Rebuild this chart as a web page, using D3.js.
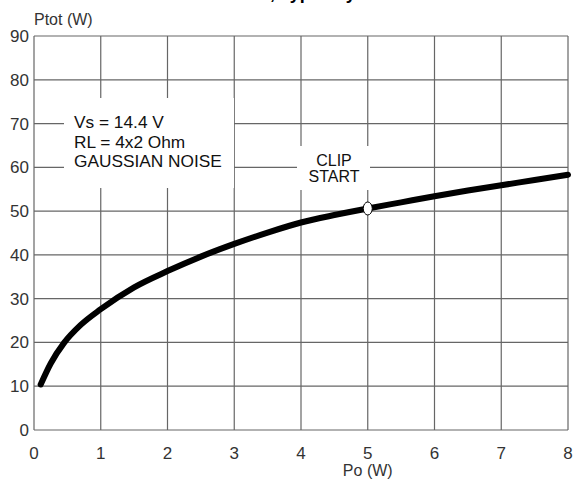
<!DOCTYPE html>
<html>
<head>
<meta charset="utf-8">
<script src="https://cdn.jsdelivr.net/npm/d3@7"></script>
<style>
  body { margin: 0; background: #fff; }
  svg { display: block; font-family: "Liberation Sans", Arial, sans-serif; }
</style>
</head>
<body>
<div id="chart"></div>
<script>
// Po (W) vs Ptot (W)
const po   = [0.1, 0.25, 0.45, 0.7, 1, 1.5, 2, 2.5, 3, 3.5, 4, 4.5, 5, 5.5, 6, 6.5, 7, 7.5, 8];
const ptot = [10.4, 15.2, 19.9, 24, 27.6, 32.6, 36.3, 39.6, 42.5, 45.1, 47.4, 49.1, 50.6, 52, 53.4, 54.7, 55.9, 57.1, 58.3];
const xTicks = [0, 1, 2, 3, 4, 5, 6, 7, 8];
const yTicks = [0, 10, 20, 30, 40, 50, 60, 70, 80, 90];
const clipPoint = [5, 50.6];
const noteLines = ['Vs = 14.4 V', 'RL = 4x2 Ohm', 'GAUSSIAN NOISE'];
const clipLines = ['CLIP', 'START'];

const width = 574, height = 482;
const margin = { top: 36, right: 6, bottom: 52, left: 34 };

const svg = d3.select('#chart').append('svg')
  .attr('width', width)
  .attr('height', height);

const x = d3.scaleLinear().domain([0, 8]).range([margin.left, width - margin.right]);
const y = d3.scaleLinear().domain([0, 90]).range([height - margin.bottom, margin.top]);

// title, cut off at the top edge like in the source
svg.append('text')
  .attr('x', 182).attr('y', -1)
  .attr('font-size', 18).attr('font-weight', 'bold')
  .text('Ptot vs Po, Typically');

// grid
svg.append('g')
  .selectAll('line')
  .data(xTicks)
  .join('line')
  .attr('x1', d => x(d)).attr('x2', d => x(d))
  .attr('y1', y(0)).attr('y2', y(90))
  .attr('stroke', '#666').attr('stroke-width', 1.2);

svg.append('g')
  .selectAll('line')
  .data(yTicks)
  .join('line')
  .attr('x1', x(0)).attr('x2', x(8))
  .attr('y1', d => y(d)).attr('y2', d => y(d))
  .attr('stroke', '#666').attr('stroke-width', 1.2);

// tick labels
svg.append('g')
  .selectAll('text')
  .data(yTicks)
  .join('text')
  .attr('x', x(0) - 5)
  .attr('y', d => y(d) + 6)
  .attr('text-anchor', 'end')
  .attr('font-size', 17)
  .attr('fill', '#333')
  .text(d => d);

svg.append('g')
  .selectAll('text')
  .data(xTicks)
  .join('text')
  .attr('x', d => x(d))
  .attr('y', y(0) + 29)
  .attr('text-anchor', 'middle')
  .attr('font-size', 17)
  .attr('fill', '#333')
  .text(d => d);

svg.append('text')
  .attr('x', x(0)).attr('y', 25)
  .attr('font-size', 16).attr('fill', '#333')
  .text('Ptot (W)');

svg.append('text')
  .attr('x', x(5)).attr('y', y(0) + 46)
  .attr('text-anchor', 'middle')
  .attr('font-size', 16).attr('fill', '#333')
  .text('Po (W)');

// note box
svg.append('rect')
  .attr('x', 64).attr('y', 98).attr('width', 170).attr('height', 90)
  .attr('fill', '#fff');
svg.append('g')
  .selectAll('text')
  .data(noteLines)
  .join('text')
  .attr('x', 74)
  .attr('y', (d, i) => 128 + i * 19.5)
  .attr('font-size', 17.3)
  .attr('fill', '#111')
  .text(d => d);

// clip start label
svg.append('rect')
  .attr('x', 297).attr('y', 146).attr('width', 73).attr('height', 44)
  .attr('fill', '#fff');
svg.append('g')
  .selectAll('text')
  .data(clipLines)
  .join('text')
  .attr('x', 334)
  .attr('y', (d, i) => 166 + i * 16)
  .attr('text-anchor', 'middle')
  .attr('font-size', 16)
  .attr('fill', '#111')
  .text(d => d);

// curve
const line = d3.line()
  .x((d, i) => x(po[i]))
  .y((d, i) => y(ptot[i]))
  .curve(d3.curveMonotoneX);

svg.append('path')
  .datum(po)
  .attr('d', line)
  .attr('fill', 'none')
  .attr('stroke', '#000')
  .attr('stroke-width', 6)
  .attr('stroke-linecap', 'round');

svg.append('ellipse')
  .attr('cx', x(clipPoint[0]))
  .attr('cy', y(clipPoint[1]))
  .attr('rx', 4.5).attr('ry', 6.5)
  .attr('fill', '#fff')
  .attr('stroke', '#000')
  .attr('stroke-width', 1);
</script>
</body>
</html>
